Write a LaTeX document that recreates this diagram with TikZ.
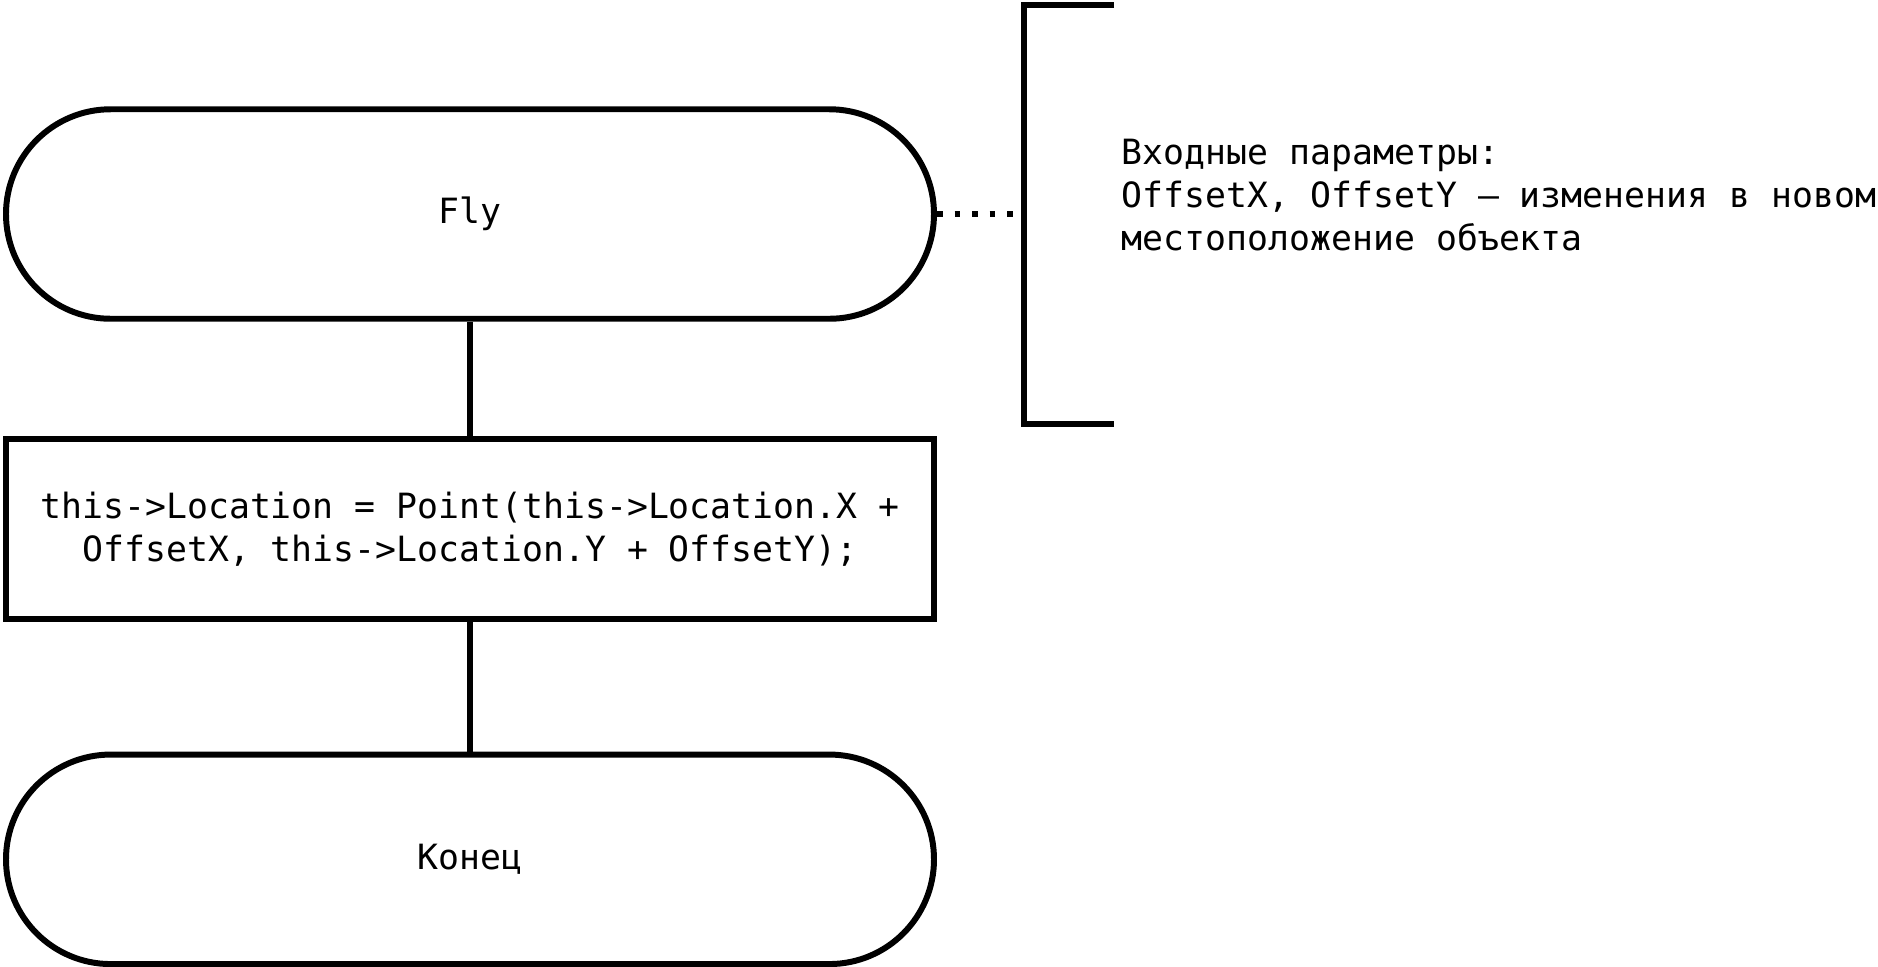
\documentclass[tikz,border=0pt]{standalone}
\usepackage{fontspec}
\setmonofont{DejaVu Sans Mono}
\usetikzlibrary{positioning}
\tikzset{
  every picture/.style={font=\ttfamily\fontsize{9.9}{12.2}\selectfont, line width=1.7pt},
  term/.style={draw, rounded corners=1.047cm, minimum width=9.28cm, minimum height=2.095cm, inner sep=0pt},
  proc/.style={draw, align=center, minimum width=9.28cm, minimum height=1.80cm, inner sep=0pt},
  link/.style={draw},
  note/.style={align=left, anchor=north west, inner sep=0pt},
}

\begin{document}
\begin{tikzpicture}[dots/.style={dash pattern=on 1.6pt off 3.4pt}]
  \useasboundingbox (0,0) rectangle (18.78,-9.66);
  % flow
  \node[term] (fly) at (4.70, -2.14) {Fly};
  \node[proc] (move) at (4.70, -5.294) {this->Location = Point(this->Location.X +\\OffsetX, this->Location.Y + OffsetY);};
  \node[term] (stop) at (4.70, -8.593) {Конец};
  \draw[link] (fly) -- (move); \draw[link] (move) -- (stop);
  % comment
  \coordinate (brk) at (10.24, -2.14);
  \draw (11.14, -0.05) -| (10.24, -4.24) -- (11.14, -4.24);
  \draw[dots] (fly.east) -- (brk);
  \node[note] (params) at (11.19, -1.36) {Входные параметры:\\OffsetX, OffsetY – изменения в новом\\местоположение объекта};
\end{tikzpicture}
\end{document}
